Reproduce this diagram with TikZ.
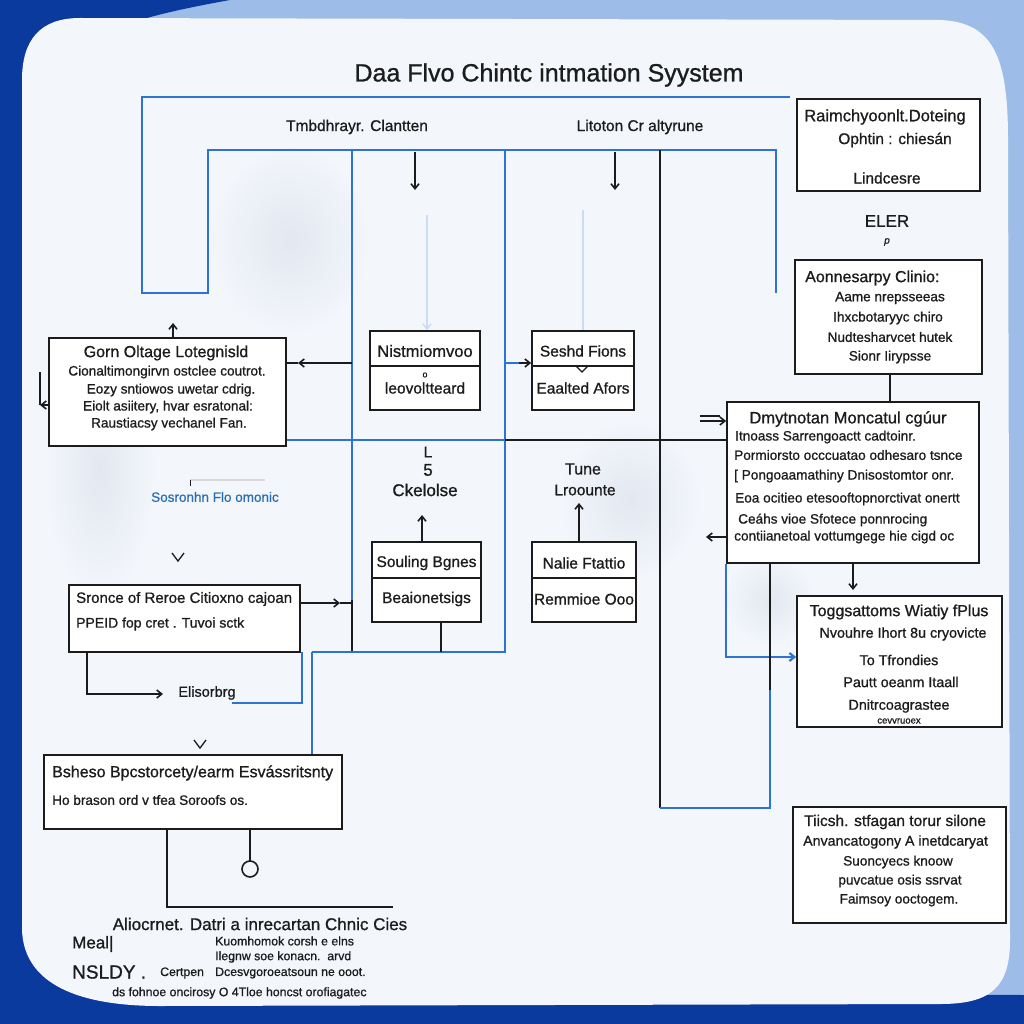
\documentclass[tikz,border=0pt]{standalone}
\usepackage{fontspec}
\setmainfont{Liberation Sans}[RawFeature={embolden=0.9}]
\usetikzlibrary{arrows.meta,calc}
\definecolor{dkblue}{HTML}{0B3A9E}
\definecolor{ltblue}{HTML}{9DBDE8}
\definecolor{panel}{HTML}{F3F6FB}
\definecolor{lnblue}{HTML}{2B74D3}
\definecolor{ink}{HTML}{1C1C1C}
\definecolor{txblue}{HTML}{2A6FB5}
\definecolor{smudge}{HTML}{E2E8F1}
\begin{document}
\begin{tikzpicture}[x=1pt,y=-1pt,
 bx/.style={draw=ink, line width=1.7pt, fill=white, inner sep=0pt},
 tx/.style={text=ink, inner sep=0pt, font=\fontsize{13.6}{16}\selectfont},
 ttl/.style={text=ink, inner sep=0pt, font=\fontsize{15.5}{18}\selectfont},
 sml/.style={text=ink, inner sep=0pt, anchor=west, font=\fontsize{12.3}{14}\selectfont},
 lft/.style={anchor=west},
 ln/.style={draw=ink, line width=1.6pt},
 bl/.style={draw=lnblue, line width=2.2pt},
 pale/.style={draw=black!15, line width=1.5pt},
 tip/.style={-{Straight Barb[length=5pt,width=8pt]}},
]
\useasboundingbox (0,0) rectangle (1024,1024);
% ---------- background ----------
\fill[ltblue] (0,0) rectangle (1024,1024);
\fill[dkblue] (0,0) -- (230,0) .. controls (120,20) and (45,40) .. (40,120) -- (30,1024) -- (0,1024) -- cycle;
\fill[dkblue] (0,930) .. controls (120,990) and (400,992) .. (1024,995) -- (1024,1024) -- (0,1024) -- cycle;
\fill[panel] (80,18) -- (940,20) .. controls (995,22) and (1008,60) .. (1008,140) -- (1010,940)
  .. controls (1010,988) and (990,1004) .. (940,1004) -- (160,1006)
  .. controls (80,1006) and (24,985) .. (22,930) -- (22,80) .. controls (22,40) and (40,18) .. (80,18) -- cycle;
\shade[inner color=smudge, outer color=panel] (290,240) ellipse (80 and 95);
\shade[inner color=smudge, outer color=panel] (630,500) ellipse (70 and 80);
\shade[inner color=smudge, outer color=panel] (770,600) ellipse (45 and 45);
\shade[inner color=smudge, outer color=panel] (100,470) ellipse (55 and 130);

% ---------- blue / black frame lines ----------
\coordinate (b0) at (790,97);
\coordinate (b1) at (142,293);
\coordinate (b2) at (208,150);
\coordinate (b3) at (776,293);
\draw[bl] (b0) -| (b1) -| (b2) -| (b3);
\coordinate (v1t) at (352,150);
\coordinate (v1m) at (352,600);
\coordinate (v1b) at (352,652);
\draw[bl] (v1t) -- (v1m);
\draw[ln] (v1m) -- (v1b);
\coordinate (v2t) at (505,150);
\coordinate (v2b) at (505,652);
\coordinate (v3c) at (312,652);
\draw[bl] (v2t) -- (v2b) -- (v3c);
\coordinate (v4t) at (660,150);
\coordinate (v4b) at (660,808);
\coordinate (v5b) at (770,808);
\coordinate (v5m) at (770,690);
\draw[ln] (v4t) -- (v4b);
\draw[bl] (v4b) -- (v5b) -- (v5m);

% ---------- titles ----------
\node[text=ink, inner sep=0pt, font=\fontsize{25}{30}\selectfont] (title) at (549,75) {Daa Flvo Chintc intmation Syystem};
\node[ttl] (lab1) at (357,127) {Tmbdhrayr. Clantten};
\node[ttl] (lab2) at (640,127) {Litoton Cr altyrune};

% ---------- boxes ----------
\node[bx, minimum width=237, minimum height=108] (gorn) at (167.5,392) {};
\node[bx, minimum width=231, minimum height=67] (sro) at (184.5,618.5) {};
\node[bx, minimum width=298, minimum height=74] (bsh) at (193,792) {};
\node[bx, minimum width=110, minimum height=35] (nisT) at (425,348.5) {};
\node[bx, minimum width=110, minimum height=44] (nisB) at (425,388) {};
\node[bx, minimum width=102, minimum height=35] (sesT) at (583,348.5) {};
\node[bx, minimum width=102, minimum height=44] (sesB) at (583,388) {};
\node[bx, minimum width=109, minimum height=36] (souT) at (426.5,560) {};
\node[bx, minimum width=109, minimum height=44] (souB) at (426.5,600) {};
\node[bx, minimum width=104, minimum height=36] (nalT) at (584,560) {};
\node[bx, minimum width=104, minimum height=44] (nalB) at (584,600) {};
\node[bx, minimum width=183, minimum height=92] (raim) at (888.5,145) {};
\node[bx, minimum width=187, minimum height=114] (aonn) at (888.5,317) {};
\node[bx, minimum width=252, minimum height=161] (dmy) at (853,482.5) {};
\node[bx, minimum width=205, minimum height=131] (togg) at (899.5,661.5) {};
\node[bx, minimum width=213, minimum height=116] (tic) at (899.5,865) {};

% ---------- box texts ----------
\node[ttl, font=\fontsize{16}{18}\selectfont] (g1) at (166,353) {Gorn Oltage Lotegnisld};
\node[tx] (g2) at (167,372) {Cionaltimongirvn ostclee coutrot.};
\node[tx] (g3) at (171,390) {Eozy sntiowos uwetar cdrig.};
\node[tx] (g4) at (168,407) {Eiolt asiitery, hvar esratonal:};
\node[tx] (g5) at (169,424) {Raustiacsy vechanel Fan.};

\node[tx, text=txblue, font=\fontsize{13.5}{15}\selectfont] (sos) at (215,497) {Sosronhn Flo omonic};

\node[ttl, lft, font=\fontsize{15}{17}\selectfont] (s1) at (76,599) {Sronce of Reroe Citioxno cajoan};
\node[tx, lft, font=\fontsize{14}{16}\selectfont] (s2) at (76,624) {PPEID fop cret . Tuvoi sctk};
\node[tx, font=\fontsize{14.5}{16}\selectfont] (elis) at (207,693) {Elisorbrg};

\node[ttl, lft, font=\fontsize{16}{18}\selectfont] (bs1) at (52,773) {Bsheso Bpcstorcety/earm Esvássritsnty};
\node[tx, lft] (bs2) at (52,800) {Ho brason ord v tfea Soroofs os.};

\node[ttl, font=\fontsize{16.5}{18}\selectfont] (n1) at (425,351) {Nistmiomvoo};
\node[tx, font=\fontsize{9}{10}\selectfont] (n2) at (425,375) {o};
\node[ttl] (n3) at (425,388) {leovoltteard};
\node[ttl] (e1) at (583,351) {Seshd Fions};
\node[ttl] (e2) at (583,388) {Eaalted Afors};
\node[ttl] (lmark) at (428,452) {L};
\node[ttl, font=\fontsize{17}{20}\selectfont] (five) at (428,470) {5};
\node[ttl, font=\fontsize{17}{20}\selectfont] (ckel) at (425,490) {Ckelolse};
\node[ttl, font=\fontsize{16}{18}\selectfont] (tune) at (583,469) {Tune};
\node[ttl] (lroo) at (585,490) {Lroounte};
\node[ttl] (o1) at (426.5,563) {Souling Bgnes};
\node[ttl] (o2) at (426.5,599) {Beaionetsigs};
\node[ttl] (a1) at (584,563) {Nalie Ftattio};
\node[ttl] (a2) at (584,599) {Remmioe Ooo};

\node[ttl, font=\fontsize{16.5}{18}\selectfont] (r1) at (885,117) {Raimchyoonlt.Doteing};
\node[ttl] (r2) at (895,140) {Ophtin : chiesán};
\node[ttl] (r3) at (887,178) {Lindcesre};
\node[text=ink, inner sep=0pt, font=\fontsize{17}{20}\selectfont] (eler) at (887,221) {ELER};
\node[tx, font=\itshape\fontsize{10}{12}\selectfont] (pm) at (887,242) {p};

\node[ttl, lft, font=\fontsize{16}{18}\selectfont] (an1) at (805,278) {Aonnesarpy Clinio:};
\node[tx] (an2) at (890,298) {Aame nrepsseeas};
\node[tx] (an3) at (888,318) {Ihxcbotaryyc chiro};
\node[tx] (an4) at (890,337) {Nudtesharvcet hutek};
\node[tx] (an5) at (890,357) {Sionr Iirypsse};

\node[ttl, font=\fontsize{16.5}{18}\selectfont] (d1) at (848,419) {Dmytnotan Moncatul cgúur};
\node[tx, lft] (d2) at (735,437) {Itnoass Sarrengoactt cadtoinr.};
\node[tx, lft] (d3) at (734,455) {Pormiorsto occcuatao odhesaro tsnce};
\node[tx, lft] (d4) at (734,476) {[ Pongoaamathiny Dnisostomtor onr.};
\node[tx, lft] (d5) at (735,499) {Eoa ocitieo etesooftopnorctivat onertt};
\node[tx, lft] (d6) at (738,520) {Ceáhs vioe Sfotece ponnrocing};
\node[tx, lft] (d7) at (734,537) {contiianetoal vottumgege hie cigd oc};

\node[ttl, font=\fontsize{16}{18}\selectfont] (t1) at (899,612) {Toggsattoms Wiatiy fPlus};
\node[tx, font=\fontsize{14.3}{16}\selectfont] (t2) at (903,634) {Nvouhre Ihort 8u cryovicte};
\node[tx, font=\fontsize{14.3}{16}\selectfont] (t3) at (899,660) {To Tfrondies};
\node[tx, font=\fontsize{14.3}{16}\selectfont] (t4) at (901,682) {Pautt oeanm Itaall};
\node[tx, font=\fontsize{14.3}{16}\selectfont] (t5) at (899,706) {Dnitrcoagrastee};
\node[tx, font=\fontsize{9.5}{10}\selectfont] (t6) at (899,721) {cevvruoex};

\node[ttl, lft] (c1) at (804,822) {Tiicsh. stfagan torur silone};
\node[tx, lft, font=\fontsize{14.2}{16}\selectfont] (c2) at (803,842) {Anvancatogony A inetdcaryat};
\node[tx] (c3) at (898,862) {Suoncyecs knoow};
\node[tx] (c4) at (900,881) {puvcatue osis ssrvat};
\node[tx] (c5) at (899,900) {Faimsoy ooctogem.};

% ---------- bottom text ----------
\node[ttl, font=\fontsize{17}{20}\selectfont] (bt) at (260,924) {Aliocrnet. Datri a inrecartan Chnic Cies};
\node[ttl, lft, font=\fontsize{17}{20}\selectfont] (meal) at (72,944) {Meal|};
\node[ttl, lft, font=\fontsize{19}{22}\selectfont] (nsl) at (72,972) {NSLDY .};
\node[sml] (k1) at (215,941) {Kuomhomok corsh e elns};
\node[sml] (k2) at (215,957) {Ilegnw soe konacn.\ \ arvd};
\node[sml] (k3) at (160,973) {Certpen};
\node[sml] (k4) at (215,973) {Dcesvgoroeatsoun ne ooot.};
\node[sml] (k5) at (112,993) {ds fohnoe oncirosy O 4Tloe honcst orofiagatec};

% ---------- connectors ----------
\coordinate (ta1) at (415,152); \coordinate (ta1e) at (415,190);
\coordinate (ta2) at (615,152); \coordinate (ta2e) at (615,190);
\draw[ln, tip] (ta1) -- (ta1e);
\draw[ln, tip] (ta2) -- (ta2e);
\coordinate (p1) at (427,215);
\coordinate (p2) at (583,210);
\draw[pale, draw=lnblue!25, tip] (p1) -- (p1 |- nisT.north);
\draw[pale, draw=lnblue!25] (p2) -- (p2 |- sesT.north);
% Gorn connectors
\coordinate (gu) at (173,323);
\draw[ln, tip] (gu |- gorn.north) -- (gu);
\coordinate (gl) at (40,405);
\coordinate (glt) at (40,372);
\draw[ln] (glt) -- (gl);
\draw[ln, tip] (gorn.west |- gl) -- (gl);
\coordinate (gr) at (352,363);
\coordinate (grt) at (298,363);
\draw[ln, tip] (gr) -- (grt);
\draw[ln] (grt) -- (gorn.east |- grt);
\coordinate (h1) at (505,440);
\draw[bl] (gorn.east |- h1) -- (h1);
\draw[ln] (h1) -- (dmy.west |- h1);
\coordinate (sg) at (190,480);
\coordinate (sg2) at (265,480);
\draw[pale] (sg) -- (sg2);
\draw[ln, line width=1pt] (sg) -- ++(0,6);
% Seshd
\coordinate (sr) at (505,363);
\coordinate (srm) at (519,363);
\draw[bl] (sr) -- (srm);
\draw[ln, tip] (srm) -- (sesT.west |- srm);
% chevrons
\draw[ln, line width=1.3pt] (576,366) -- (582,372) -- (588,366);
\draw[ln, line width=1.3pt] (172,553) -- (178,561) -- (184,553);
\draw[ln, line width=1.3pt] (194,740) -- (200,748) -- (206,740);
% middle lower arrows
\coordinate (su) at (422,515);
\draw[ln, tip] (su |- souT.north) -- (su);
\coordinate (nu) at (579,503);
\draw[ln, tip] (nu |- nalT.north) -- (nu);
\coordinate (sb) at (441,652);
\draw[ln] (sb |- souB.south) -- (sb);
% Sronce connectors
\coordinate (sa) at (340,603);
\draw[ln, tip] (sro.east |- sa) -- (sa);
\draw[ln] (sa) -- (v1m |- sa);
\coordinate (sl) at (87,652);
\coordinate (sle) at (163,694);
\draw[ln, tip] (sl) |- (sle);
\coordinate (sbl) at (302,652);
\coordinate (sbe) at (232,703);
\draw[bl] (sbl) |- (sbe);
\draw[bl] (v3c) -- (v3c |- bsh.north);
% Bsheso bottom
\coordinate (bb1) at (167,829);
\coordinate (bb2) at (393,907);
\draw[ln] (bb1) |- (bb2);
\coordinate (bb3) at (250,829);
\coordinate (bb4) at (250,861);
\draw[ln] (bb3) -- (bb4);
\draw[ln] (250,869) circle (8);
% right side
\coordinate (ra) at (890,300);
\draw[ln] (ra |- aonn.south) -- (ra |- dmy.north);
\coordinate (dd) at (853,590);
\draw[ln, tip] (dd |- dmy.south) -- (dd);
\coordinate (dl1) at (700,416);
\coordinate (dl2) at (700,421);
\draw[ln] (dl1) -- ($(dmy.west |- dl1)+(-6,0)$);
\draw[ln, tip] (dl2) -- (dmy.west |- dl2);
\coordinate (dlo) at (706,537);
\draw[ln, tip] (dmy.west |- dlo) -- (dlo);
\coordinate (db) at (726,657);
\draw[bl, tip] (db |- dmy.south) -- (db) -- (togg.west |- db);
\draw[ln] (v5m) -- (v5m |- dmy.south);
\end{tikzpicture}
\end{document}
